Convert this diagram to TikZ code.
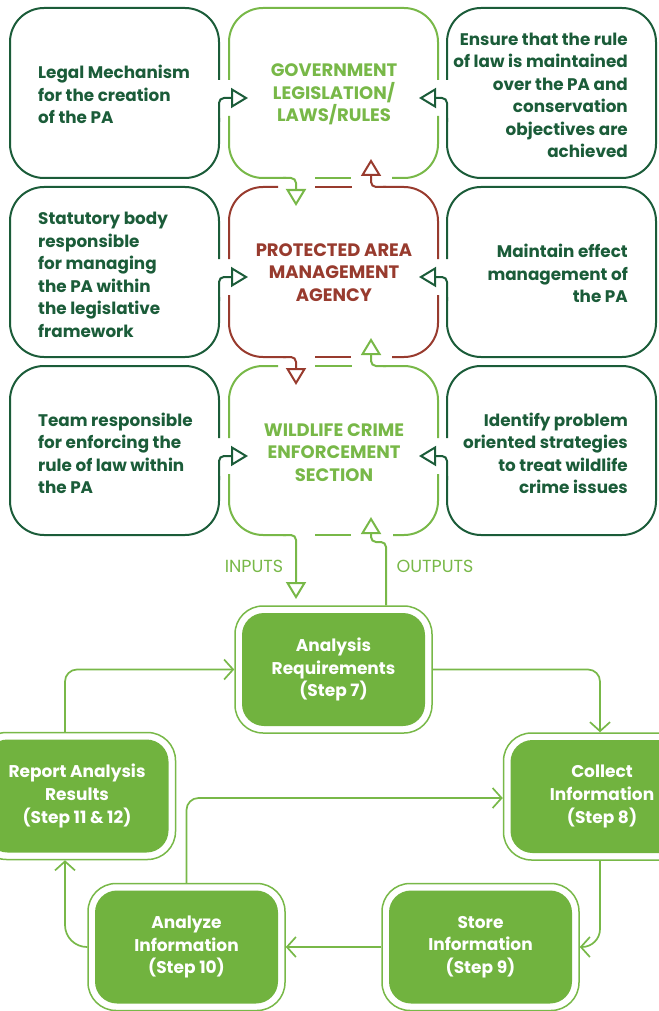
\documentclass[tikz,border=0pt]{standalone}
\usepackage{fontspec}
\setmainfont{Poppins}
\usetikzlibrary{arrows.meta}
\definecolor{dkg}{HTML}{1B5C39}
\definecolor{lg}{HTML}{78B848}
\definecolor{fillg}{HTML}{71B33F}
\definecolor{rd}{HTML}{983B2E}
\tikzset{
  box/.style={line width=2pt, rounded corners=34pt},
  hookarrow/.style={line width=2pt, rounded corners=5pt, -{Triangle[open, length=17pt, width=20pt]}},
  sidetext/.style={text=dkg, font=\bfseries\fontsize{16.8}{22.5}\selectfont, inner sep=0pt},
  midtext/.style={font=\bfseries\fontsize{18}{22.5}\selectfont, inner sep=0pt, align=center},
  stepbox/.style={draw=lg, line width=1.5pt, rounded corners=28pt, minimum width=197pt, minimum height=127pt,
    inner sep=0pt, align=center, text=white, font=\bfseries\fontsize{17}{22.8}\selectfont,
    path picture={\fill[fillg, rounded corners=22pt] ([shift={(7pt,-7pt)}]path picture bounding box.north west) rectangle ([shift={(-7pt,7pt)}]path picture bounding box.south east);}},
  flow/.style={draw=lg, line width=1.7pt, rounded corners=12pt, -{Straight Barb[length=9pt, width=20pt]}},
  iolabel/.style={text=lg, font=\fontsize{17.5}{20}\selectfont, inner sep=0pt},
}
\begin{document}
\begin{tikzpicture}[x=1pt, y=-1pt]
\useasboundingbox (0,0) rectangle (658,1011);

% ---------- side boxes ----------
\foreach \T/\B/\a in {8/178/98,187/357/277,366/535/456}{
  \draw[dkg, box] (219,{\a-18}) -- (219,\T) -- (10,\T) -- (10,\B) -- (219,\B) -- (219,{\a+20});
  \draw[dkg, hookarrow] (219,{\a+24}) -- (219,\a) -- (248,\a);
  \draw[dkg, box] (447,{\a-18}) -- (447,\T) -- (656,\T) -- (656,\B) -- (447,\B) -- (447,{\a+20});
  \draw[dkg, hookarrow] (447,{\a+24}) -- (447,\a) -- (419,\a);
}

% ---------- middle box 1 (government) ----------
\draw[lg, box] (229,80) -- (229,8) -- (438,8) -- (438,80);
\draw[lg, box] (229,116) -- (229,178) -- (286,178);
\draw[lg, hookarrow] (283,178) -- (296,178) -- (296,206);
\draw[lg, line width=2pt] (315,178) -- (351,178);
\draw[lg, box] (392,178) -- (438,178) -- (438,116);

% ---------- middle box 2 (agency) ----------
\draw[rd, box] (278,187) -- (229,187) -- (229,259);
\draw[rd, line width=2pt] (315,187) -- (352,187);
\draw[rd, hookarrow] (386,187) -- (371,187) -- (371,159);
\draw[rd, box] (383,187) -- (438,187) -- (438,259);
\draw[rd, box] (229,295) -- (229,357) -- (286,357);
\draw[rd, hookarrow] (283,357) -- (296,357) -- (296,385);
\draw[rd, line width=2pt] (315,357) -- (351,357);
\draw[rd, box] (392,357) -- (438,357) -- (438,295);

% ---------- middle box 3 (wildlife crime) ----------
\draw[lg, box] (278,366) -- (229,366) -- (229,438);
\draw[lg, line width=2pt] (315,366) -- (352,366);
\draw[lg, hookarrow] (386,366) -- (371,366) -- (371,338);
\draw[lg, box] (383,366) -- (438,366) -- (438,438);
\draw[lg, box] (229,474) -- (229,535) -- (286,535);
\draw[lg, line width=2pt] (315,535) -- (351,535);
\draw[lg, box] (393,535) -- (438,535) -- (438,474);

% ---------- texts top ----------
\node[sidetext, anchor=west, align=left] (legal) at (38,94.5) {Legal Mechanism\\for the creation\\of the PA};
\node[midtext, text=lg] (gov) at (334,94.5) {GOVERNMENT\\LEGISLATION/\\LAWS/RULES};
\node[sidetext, anchor=east, align=right] (ensure) at (628,95.5) {Ensure that the rule\\of law is maintained\\over the PA and\\conservation\\objectives are\\achieved};

\node[sidetext, anchor=west, align=left] (statutory) at (38,275) {Statutory body\\responsible\\for managing\\the PA within\\the legislative\\framework};
\node[midtext, text=rd] (agency) at (334,272.5) {PROTECTED AREA\\MANAGEMENT\\AGENCY};
\node[sidetext, anchor=east, align=right] (maintain) at (628,273.5) {Maintain effect\\management of\\the PA};

\node[sidetext, anchor=west, align=left] (team) at (38,453.5) {Team responsible\\for enforcing the\\rule of law within\\the PA};
\node[midtext, text=lg] (wcs) at (334,452.5) {WILDLIFE CRIME\\ENFORCEMENT\\SECTION};
\node[sidetext, anchor=east, align=right] (identify) at (628,453.5) {Identify problem\\oriented strategies\\to treat wildlife\\crime issues};

% ---------- step boxes ----------
\node[stepbox] (analysis) at (333.5,669.5) {Analysis\\Requirements\\(Step 7)};
\node[stepbox] (collect) at (602,796.5) {Collect\\Information\\(Step 8)};
\node[stepbox] (store) at (480.5,947) {Store\\Information\\(Step 9)};
\node[stepbox] (analyze) at (186.5,947) {Analyze\\Information\\(Step 10)};
\node[stepbox] (report) at (77,796) {Report Analysis\\Results\\(Step 11 \& 12)};

% ---------- inputs / outputs ----------
\draw[lg, hookarrow] (283,535) -- (296,535) -- (296,599);
\draw[lg, hookarrow] ([xshift=52.5pt]analysis.north) -- (386,542) -- (371,542) -- (371,517);
\node[iolabel] (inputs) at (254,566) {INPUTS};
\node[iolabel] (outputs) at (435,566) {OUTPUTS};

% ---------- cycle ----------
\draw[flow] ([xshift=-12pt]report.north) |- (analysis.west);
\draw[flow] (analysis.east) -| ([xshift=-2pt]collect.north);
\draw[flow, rounded corners=18pt] ([xshift=-2pt]collect.south) |- (store.east);
\draw[flow] (store.west) -- (analyze.east);
\draw[flow] (analyze.north) |- ([yshift=-1.5pt]collect.west);
\draw[flow, rounded corners=22pt] (analyze.west) -| ([xshift=-12pt]report.south);
\end{tikzpicture}
\end{document}
